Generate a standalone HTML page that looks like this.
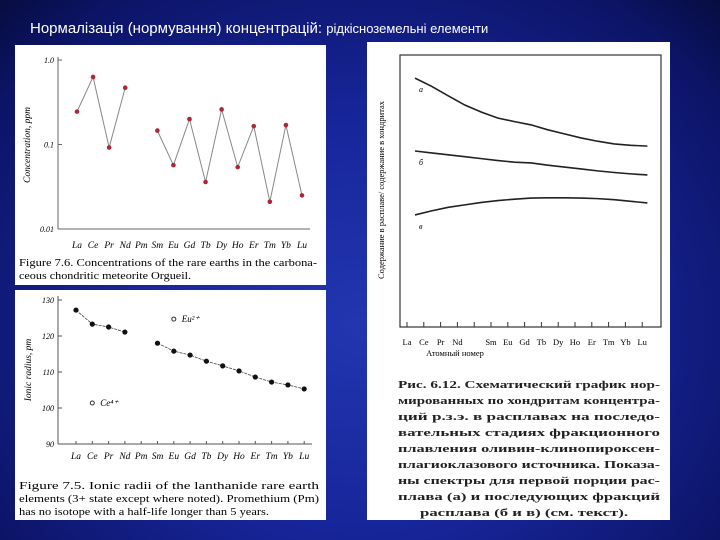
<!DOCTYPE html>
<html><head><meta charset="utf-8"><style>
body{margin:0;width:720px;height:540px;overflow:hidden;background:radial-gradient(ellipse at 50% 60%,#2236b0 0%,#17259a 45%,#0c1466 85%,#070c40 100%);font-family:"Liberation Sans",sans-serif;position:relative}
.panel{position:absolute;background:#fff}
svg text{font-family:"Liberation Serif",serif}
</style></head><body>
<div style="position:absolute;left:30px;top:20px;color:#fff;font-size:15px;white-space:nowrap">Нормалізація (нормування) концентрацій: <span style="font-size:13px">рідкісноземельні елементи</span></div>
<div class="panel" style="left:15px;top:45px;width:311px;height:240px"></div>
<div class="panel" style="left:15px;top:290px;width:311px;height:230px"></div>
<div class="panel" style="left:367px;top:42px;width:303px;height:478px"></div>
<svg id="s" width="720" height="540" style="position:absolute;left:0;top:0">
<text x="19" y="266" font-size="10" textLength="298" lengthAdjust="spacingAndGlyphs">Figure 7.6.  Concentrations of the rare earths in the carbona-</text>
<text x="19" y="279" font-size="10" textLength="172" lengthAdjust="spacingAndGlyphs">ceous chondritic meteorite Orgueil.</text>
<text x="19" y="489" font-size="10" textLength="300" lengthAdjust="spacingAndGlyphs">Figure 7.5.   Ionic radii of the lanthanide rare earth</text>
<text x="19" y="502" font-size="10" textLength="300" lengthAdjust="spacingAndGlyphs">elements (3+ state except where noted).  Promethium (Pm)</text>
<text x="19" y="515" font-size="10" textLength="250" lengthAdjust="spacingAndGlyphs">has no isotope with a half-life longer than 5 years.</text>
<g font-size="11" font-weight="bold" fill="#222">
<text x="398" y="388" textLength="262" lengthAdjust="spacingAndGlyphs">Рис. 6.12. Схематический график нор-</text>
<text x="398" y="404" textLength="262" lengthAdjust="spacingAndGlyphs">мированных по хондритам концентра-</text>
<text x="398" y="420" textLength="262" lengthAdjust="spacingAndGlyphs">ций р.з.э. в расплавах на последо-</text>
<text x="398" y="436" textLength="262" lengthAdjust="spacingAndGlyphs">вательных    стадиях    фракционного</text>
<text x="398" y="452" textLength="262" lengthAdjust="spacingAndGlyphs">плавления       оливин-клинопироксен-</text>
<text x="398" y="468" textLength="262" lengthAdjust="spacingAndGlyphs">плагиоклазового источника.  Показа-</text>
<text x="398" y="484" textLength="262" lengthAdjust="spacingAndGlyphs">ны спектры для первой порции рас-</text>
<text x="398" y="500" textLength="262" lengthAdjust="spacingAndGlyphs">плава (а) и последующих фракций</text>
<text x="420" y="516" textLength="208" lengthAdjust="spacingAndGlyphs">расплава (б и в) (см. текст).</text>
</g>
</svg>
<script>
const ree=["La","Ce","Pr","Nd","Pm","Sm","Eu","Gd","Tb","Dy","Ho","Er","Tm","Yb","Lu"];
const conc=[0.245,0.63,0.092,0.47,null,0.146,0.057,0.2,0.036,0.26,0.054,0.165,0.021,0.17,0.025];
const concTicks=["0.01","0.1","1.0"];
const radii=[127.2,123.3,122.5,121.1,null,118,115.8,114.7,113,111.7,110.3,108.6,107.2,106.4,105.3];
const radiiTicks=[90,100,110,120,130];
const eu2=124.7, ce4=101.4;
const ruLabels=["La","Ce","Pr","Nd","","Sm","Eu","Gd","Tb","Dy","Ho","Er","Tm","Yb","Lu"];
const curveA=[91.5,88.5,85,81.6,79,76.8,75.5,74.3,72.5,71,69.5,68.3,67.3,66.8,66.5];
const curveB=[64.7,64,63.3,62.6,61.9,61.2,60.6,60.3,59.5,58.8,58.1,57.4,56.8,56.3,55.9];
const curveC=[41.2,42.7,44,44.9,45.8,46.5,47,47.4,47.5,47.5,47.4,47.2,46.8,46.2,45.6];
const S=document.getElementById('s'),NS="http://www.w3.org/2000/svg";
function el(t,a,p){const e=document.createElementNS(NS,t);for(const k in a)e.setAttribute(k,a[k]);(p||S).appendChild(e);return e}
// chart 1
const x1=i=>77+i*16.07, y1=v=>229-(Math.log10(v)+2)*84.5;
const g1=el('g',{});


el('line',{x1:58,y1:57,x2:58,y2:229,stroke:'#666'},g1);
el('line',{x1:58,y1:229,x2:310,y2:229,stroke:'#666'},g1);
concTicks.forEach(t=>{const y=y1(+t);el('line',{x1:58,y1:y,x2:62,y2:y,stroke:'#666'},g1);const tx=el('text',{x:54,y:y+3,'font-size':8,'text-anchor':'end','font-style':'italic'},g1);tx.textContent=t;});
ree.forEach((r,i)=>{const tx=el('text',{x:x1(i),y:248,'font-size':9.5,'text-anchor':'middle','font-style':'italic'},g1);tx.textContent=r;});
let seg=[];const segs=[];conc.forEach((v,i)=>{if(v==null){segs.push(seg);seg=[]}else seg.push([x1(i),y1(v)])});segs.push(seg);
segs.forEach(s=>{const p=el('polyline',{points:s.map(q=>q.join(',')).join(' '),fill:'none',stroke:'#888','stroke-width':1},g1);});
conc.forEach((v,i)=>{if(v==null)return;const c=el('circle',{cx:x1(i),cy:y1(v),r:2.3,fill:'#b0243a'},g1);});
const yl=el('text',{x:0,y:0,'font-size':9.5,'font-style':'italic','text-anchor':'middle',transform:'translate(30,145) rotate(-90)'},g1);yl.textContent='Concentration, ppm';
// chart 2
const x2=i=>76+i*16.3, y2=v=>444-(v-90)*3.6;
const g2=el('g',{});


el('line',{x1:58,y1:296,x2:58,y2:444,stroke:'#555'},g2);
el('line',{x1:58,y1:444,x2:312,y2:444,stroke:'#555'},g2);
radiiTicks.forEach(t=>{const y=y2(t);el('line',{x1:58,y1:y,x2:62,y2:y,stroke:'#555'},g2);const tx=el('text',{x:54,y:y+3,'font-size':8,'text-anchor':'end','font-style':'italic'},g2);tx.textContent=t;});
ree.forEach((r,i)=>{el('line',{x1:x2(i),y1:444,x2:x2(i),y2:441,stroke:'#555'},g2);const tx=el('text',{x:x2(i),y:459,'font-size':9.5,'text-anchor':'middle','font-style':'italic'},g2);tx.textContent=r;});
seg=[];const s2=[];radii.forEach((v,i)=>{if(v==null){s2.push(seg);seg=[]}else seg.push([x2(i),y2(v)])});s2.push(seg);
s2.forEach(s=>{const p=el('polyline',{points:s.map(q=>q.join(',')).join(' '),fill:'none',stroke:'#444','stroke-width':0.8,'stroke-dasharray':'3,1'},g2);});
radii.forEach((v,i)=>{if(v==null)return;const c=el('circle',{cx:x2(i),cy:y2(v),r:2.6,fill:'#111'},g2);});
let c=el('circle',{cx:x2(6),cy:y2(eu2),r:2,fill:'none',stroke:'#333'},g2);
let t=el('text',{x:x2(6)+8,y:y2(eu2)+3,'font-size':9,'font-style':'italic'},g2);t.textContent='Eu²⁺';
c=el('circle',{cx:x2(1),cy:y2(ce4),r:2,fill:'none',stroke:'#333'},g2);
t=el('text',{x:x2(1)+8,y:y2(ce4)+3,'font-size':9,'font-style':'italic'},g2);t.textContent='Ce⁴⁺';
t=el('text',{x:0,y:0,'font-size':9.5,'font-style':'italic','text-anchor':'middle',transform:'translate(31,370) rotate(-90)'},g2);t.textContent='Ionic radius, pm';
// chart 3
const x3=i=>415+i*16.6, y3=v=>327-v*2.72;
const g3=el('g',{});


el('rect',{x:400,y:55,width:261,height:272,fill:'none',stroke:'#333','stroke-width':1.2},g3);
ruLabels.forEach((r,i)=>{const x=407+i*16.8;el('line',{x1:x,y1:327,x2:x,y2:322,stroke:'#333'},g3);if(r){const tx=el('text',{x:x,y:345,'font-size':8.5,'text-anchor':'middle','font-family':'Liberation Sans'},g3);tx.textContent=r;}});
t=el('text',{x:455,y:356,'font-size':8.5,'text-anchor':'middle','font-family':'Liberation Sans'},g3);t.textContent='Атомный номер';
t=el('text',{x:0,y:0,'font-size':8.5,'text-anchor':'middle','font-family':'Liberation Sans',transform:'translate(384,190) rotate(-90)'},g3);t.textContent='Содержание в расплаве/ содержание в хондритах';
[[curveA,'а','curve-a'],[curveB,'б','curve-b'],[curveC,'в','curve-c']].forEach(([d,l,n])=>{
 const p=el('polyline',{points:d.map((v,i)=>x3(i)+','+y3(v)).join(' '),fill:'none',stroke:'#222','stroke-width':1.6},g3);
 
 const tx=el('text',{x:419,y:y3(d[0])+14,'font-size':8,'font-style':'italic'},g3);tx.textContent=l;});
</script>
</body></html>
